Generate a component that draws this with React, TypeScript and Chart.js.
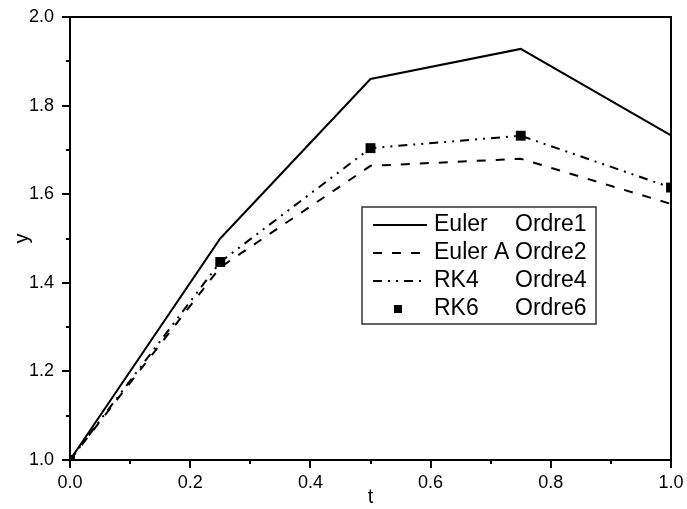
import React, { useEffect, useRef } from "react";
import { Chart, registerables } from "chart.js";

Chart.register(...registerables);

const tValues = [0, 0.25, 0.5, 0.75, 1.0];
const eulerY = [1.0, 1.5, 1.86, 1.928, 1.733];
const eulerAY = [1.0, 1.435, 1.664, 1.68, 1.578];
const rk4Y = [1.0, 1.447, 1.704, 1.732, 1.615];
const rk6Y = [1.0, 1.447, 1.704, 1.732, 1.615];

const seriesNames = ["Euler", "Euler A", "RK4", "RK6"];
const seriesOrders = ["Ordre1", "Ordre2", "Ordre4", "Ordre6"];

const xMajorTicks = [0, 0.2, 0.4, 0.6, 0.8, 1.0];
const xMinorTicks = [0.1, 0.3, 0.5, 0.7, 0.9];
const yMajorTicks = [1.0, 1.2, 1.4, 1.6, 1.8, 2.0];
const yMinorTicks = [1.1, 1.3, 1.5, 1.7, 1.9];
const xTitle = "t";
const yTitle = "y";

const FONT = "Arial, 'Liberation Sans', sans-serif";

const framePlugin = {
  id: "frameAndLegend",
  afterDraw(chart: any) {
    const { ctx, chartArea: a, scales } = chart;
    const xs = scales.x;
    const ys = scales.y;
    ctx.save();
    ctx.strokeStyle = "#000";
    ctx.lineWidth = 2;
    ctx.setLineDash([]);
    ctx.strokeRect(a.left, a.top, a.right - a.left, a.bottom - a.top);
    ctx.beginPath();
    xMajorTicks.forEach((v) => {
      const px = Math.round(xs.getPixelForValue(v));
      ctx.moveTo(px, a.bottom);
      ctx.lineTo(px, a.bottom + 8);
    });
    xMinorTicks.forEach((v) => {
      const px = Math.round(xs.getPixelForValue(v));
      ctx.moveTo(px, a.bottom);
      ctx.lineTo(px, a.bottom + 4);
    });
    yMajorTicks.forEach((v) => {
      const py = Math.round(ys.getPixelForValue(v));
      ctx.moveTo(a.left, py);
      ctx.lineTo(a.left - 8, py);
    });
    yMinorTicks.forEach((v) => {
      const py = Math.round(ys.getPixelForValue(v));
      ctx.moveTo(a.left, py);
      ctx.lineTo(a.left - 4, py);
    });
    ctx.stroke();

    // legend box
    const bx = a.left + 292;
    const by = a.top + 190;
    const bw = 234;
    const bh = 117;
    ctx.fillStyle = "#fff";
    ctx.fillRect(bx, by, bw, bh);
    ctx.strokeStyle = "#333";
    ctx.lineWidth = 1.5;
    ctx.strokeRect(bx, by, bw, bh);

    const rowY0 = by + 18;
    const rowStep = 28;
    chart.data.datasets.forEach((ds: any, i: number) => {
      const ry = rowY0 + i * rowStep;
      if (ds.showLine === false) {
        ctx.fillStyle = "#000";
        ctx.fillRect(bx + 32, ry - 4, 8, 8);
      } else {
        ctx.strokeStyle = ds.borderColor;
        ctx.lineWidth = ds.borderWidth;
        ctx.setLineDash(ds.borderDash || []);
        ctx.beginPath();
        ctx.moveTo(bx + 11, ry);
        ctx.lineTo(bx + 65, ry);
        ctx.stroke();
        ctx.setLineDash([]);
      }
      ctx.fillStyle = "#000";
      ctx.font = `23px ${FONT}`;
      ctx.textBaseline = "middle";
      ctx.textAlign = "left";
      ctx.fillText(seriesNames[i], bx + 72, ry);
      ctx.fillText(seriesOrders[i], bx + 153, ry);
    });
    ctx.restore();
  },
};

export default function App() {
  const canvasRef = useRef<HTMLCanvasElement | null>(null);

  useEffect(() => {
    const canvas = canvasRef.current;
    if (!canvas) return;
    const pts = (ys: number[]) => tValues.map((t, i) => ({ x: t, y: ys[i] }));
    const chart = new Chart(canvas, {
      type: "line",
      data: {
        datasets: [
          {
            label: seriesNames[0],
            data: pts(eulerY),
            borderColor: "#000",
            borderWidth: 2,
            pointRadius: 0,
            fill: false,
          },
          {
            label: seriesNames[1],
            data: pts(eulerAY),
            borderColor: "#000",
            borderWidth: 2,
            borderDash: [9, 10],
            pointRadius: 0,
            fill: false,
          },
          {
            label: seriesNames[2],
            data: pts(rk4Y),
            borderColor: "#000",
            borderWidth: 2,
            borderDash: [9, 6, 2, 6, 2, 6],
            pointRadius: 0,
            fill: false,
          },
          {
            label: seriesNames[3],
            data: pts(rk6Y),
            showLine: false,
            pointStyle: "rect",
            pointRadius: 7,
            pointBackgroundColor: "#000",
            pointBorderWidth: 0,
            borderColor: "#000",
            backgroundColor: "#000",
            clip: 0,
          } as any,
        ],
      },
      options: {
        animation: false,
        responsive: false,
        events: [],
        layout: { padding: { top: 17, right: 16, left: 0, bottom: 0 } },
        plugins: { legend: { display: false }, tooltip: { enabled: false } },
        scales: {
          x: {
            type: "linear",
            min: 0,
            max: 1,
            grid: { display: false, drawTicks: false },
            border: { display: false },
            afterBuildTicks: (s: any) => {
              s.ticks = xMajorTicks.map((v) => ({ value: v }));
            },
            afterFit: (s: any) => {
              s.height = 49;
              s.paddingLeft = 0;
              s.paddingRight = 0;
            },
            ticks: {
              autoSkip: false,
              maxRotation: 0,
              padding: 12,
              color: "#000",
              font: { size: 18, family: FONT },
              callback: (v: any) => Number(v).toFixed(1),
            },
            title: {
              display: true,
              text: xTitle,
              color: "#000",
              font: { size: 20, family: FONT },
              padding: { top: 0, bottom: 0 },
            },
          },
          y: {
            type: "linear",
            min: 1,
            max: 2,
            grid: { display: false, drawTicks: false },
            border: { display: false },
            afterBuildTicks: (s: any) => {
              s.ticks = yMajorTicks.map((v) => ({ value: v }));
            },
            afterFit: (s: any) => {
              s.width = 70;
              s.paddingTop = 0;
              s.paddingBottom = 0;
            },
            ticks: {
              autoSkip: false,
              padding: 16,
              color: "#000",
              font: { size: 18, family: FONT },
              callback: (v: any) => Number(v).toFixed(1),
            },
            title: {
              display: true,
              text: yTitle,
              color: "#000",
              font: { size: 20, family: FONT },
              padding: { top: 10, bottom: 0 },
            },
          },
        },
      },
      plugins: [framePlugin],
    } as any);
    return () => chart.destroy();
  }, []);

  return (
    <div style={{ position: "absolute", left: 0, top: 0, width: 687, height: 509, background: "#fff" }}>
      <canvas ref={canvasRef} width={687} height={509} style={{ display: "block" }} />
    </div>
  );
}
